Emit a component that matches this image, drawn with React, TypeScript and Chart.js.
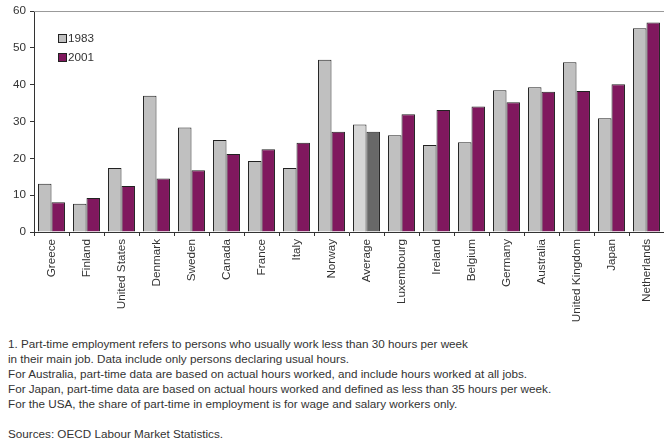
import { useEffect, useRef } from "react";
import { Chart, registerables, Plugin } from "chart.js";

Chart.register(...registerables);

const countries = [
  "Greece", "Finland", "United States", "Denmark", "Sweden", "Canada", "France",
  "Italy", "Norway", "Average", "Luxembourg", "Ireland", "Belgium", "Germany",
  "Australia", "United Kingdom", "Japan", "Netherlands",
];

const values1983 = [
  13.1, 7.7, 17.4, 37.0, 28.4, 25.0, 19.3, 17.4, 46.8, 29.2, 26.3, 23.6, 24.4,
  38.5, 39.3, 46.1, 30.9, 55.3,
];

const values2001 = [
  8.1, 9.2, 12.5, 14.5, 16.8, 21.2, 22.5, 24.2, 27.2, 27.2, 32.0, 33.1, 34.1,
  35.2, 38.1, 38.3, 40.1, 56.9,
];

const yTicks = [0, 10, 20, 30, 40, 50, 60];

const notes = [
  "1. Part-time employment refers to persons who usually work less than 30 hours per week",
  "in their main job. Data include only persons declaring usual hours.",
  "For Australia, part-time data are based on actual hours worked, and include hours worked at all jobs.",
  "For Japan, part-time data are based on actual hours worked and defined as less than 35 hours per week.",
  "For the USA, the share of part-time in employment is for wage and salary workers only.",
];
const source = "Sources: OECD Labour Market Statistics.";

const GREY = "#c0c0c0";
const PURPLE = "#80185e";
const FONT = "'Liberation Sans', Arial, sans-serif";
const SIZE = 11.7;

// legend inside the plot + grey frame line at the top
const extras: Plugin<"bar"> = {
  id: "extras",
  afterDraw(chart) {
    const { ctx, chartArea } = chart;
    ctx.save();
    ctx.strokeStyle = "#999";
    ctx.lineWidth = 1;
    ctx.beginPath();
    ctx.moveTo(chartArea.left, chartArea.top + 0.5);
    ctx.lineTo(chartArea.right, chartArea.top + 0.5);
    ctx.stroke();

    ctx.font = `${SIZE}px ${FONT}`;
    ctx.textBaseline = "middle";
    chart.data.datasets.forEach((ds, i) => {
      const y = 34 + i * 19;
      ctx.fillStyle = i === 0 ? GREY : PURPLE;
      ctx.fillRect(58.5, y + 0.5, 8, 8);
      ctx.strokeStyle = "#222";
      ctx.strokeRect(58.5, y + 0.5, 8, 8);
      ctx.fillStyle = "#333";
      ctx.fillText(String(ds.label), 68, y + 5);
    });
    ctx.restore();
  },
};

export default function App() {
  const canvasRef = useRef<HTMLCanvasElement>(null);

  useEffect(() => {
    document.body.style.margin = "0";
    if (!canvasRef.current) return;
    const avg = countries.indexOf("Average");
    const chart = new Chart(canvasRef.current, {
      type: "bar",
      data: {
        labels: countries,
        datasets: [
          {
            label: "1983",
            data: values1983,
            backgroundColor: countries.map((_, i) => (i === avg ? "#d6d6d6" : GREY)),
            borderColor: "#222",
            borderWidth: 1,
            categoryPercentage: 0.77,
            barPercentage: 1,
          },
          {
            label: "2001",
            data: values2001,
            backgroundColor: countries.map((_, i) => (i === avg ? "#686868" : PURPLE)),
            borderColor: "#222",
            borderWidth: 1,
            categoryPercentage: 0.77,
            barPercentage: 1,
          },
        ],
      },
      options: {
        responsive: false,
        animation: false,
        layout: { padding: { top: 9, left: 0, right: 0, bottom: 0 } },
        plugins: {
          legend: { display: false },
          tooltip: { enabled: false },
        },
        scales: {
          x: {
            grid: { drawOnChartArea: false, tickLength: 4, color: "#333", offset: true },
            border: { color: "#333" },
            ticks: {
              color: "#333",
              font: { family: FONT, size: SIZE },
              minRotation: 90,
              maxRotation: 90,
              autoSkip: false,
              padding: 3,
            },
            afterFit: (scale) => {
              scale.height = 330 - 232;
            },
          },
          y: {
            min: 0,
            max: 60,
            afterBuildTicks: (scale) => {
              scale.ticks = yTicks.map((v) => ({ value: v }));
            },
            grid: { drawOnChartArea: false, tickLength: 4, color: "#333" },
            border: { color: "#333" },
            ticks: {
              color: "#333",
              font: { family: FONT, size: SIZE },
              padding: 4,
            },
            afterFit: (scale) => {
              scale.width = 34;
            },
          },
        },
      },
      plugins: [extras],
    });
    return () => chart.destroy();
  }, []);

  return (
    <div style={{ position: "relative", width: 664, height: 442, background: "#fff", fontFamily: FONT }}>
      <canvas ref={canvasRef} width={664} height={330} style={{ display: "block" }} />
      <div style={{ position: "absolute", left: 8, top: 336, fontSize: SIZE, lineHeight: "15px", color: "#333" }}>
        {notes.map((n) => (
          <div key={n}>{n}</div>
        ))}
        <div style={{ marginTop: 15 }}>{source}</div>
      </div>
    </div>
  );
}
